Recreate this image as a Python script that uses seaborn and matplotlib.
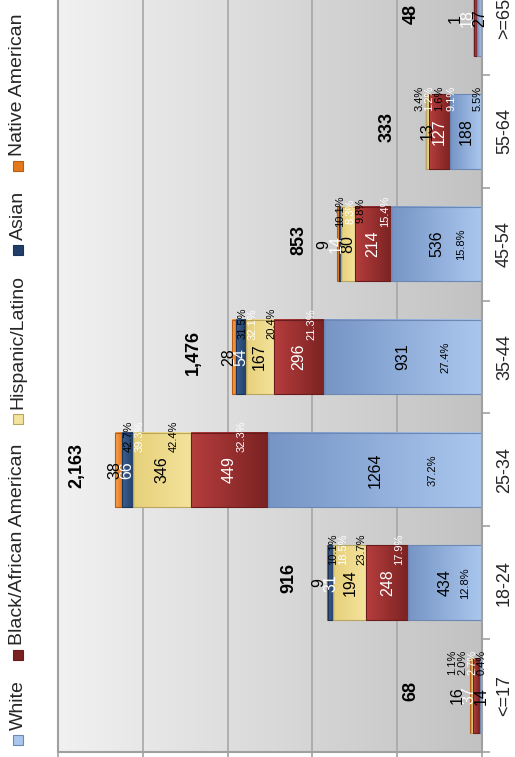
import numpy as np
import matplotlib
matplotlib.use("Agg")
import matplotlib.pyplot as plt
from matplotlib.colors import LinearSegmentedColormap
from matplotlib.patches import Rectangle
import seaborn as sns

# --- data ---
ages = ["<=17", "18-24", "25-34", "35-44", "45-54", "55-64", ">=65"]
white = [14, 434, 1264, 931, 536, 188, 27]
black = [37, 248, 449, 296, 214, 127, 18]
hispanic = [16, 194, 346, 167, 80, 13, 1]
asian = [0, 31, 66, 54, 14, 2, 1]
native = [1, 9, 38, 28, 9, 3, 1]
series_names = ["White", "Black/African American", "Hispanic/Latino",
                "Asian", "Native American"]

# far-end colour, base colour, edge colour, label colour
styles = [
    ("#7795c5", "#a9c7ee", "#6d88b3", "black"),
    ("#b63d3d", "#7a2222", "#6a1c1c", "white"),
    ("#e6d07a", "#f4e39c", "#b8a560", "black"),
    ("#3b5f90", "#213f69", "#1b3356", "white"),
    ("#f8a452", "#e4781c", "#b85e14", "black"),
]

W, H, DPI = 515, 757, 100
XMAX = 2500
PX = 424 / XMAX          # pixels per unit along the value axis
BAR_W = 0.66

sns.set_theme(style="white")
plt.rcParams["font.family"] = ["Liberation Sans", "DejaVu Sans"]

vals = np.array([white, black, hispanic, asian, native])
cum = vals.cumsum(axis=0)
starts = cum - vals
totals = vals.sum(axis=0)
race_totals = vals.sum(axis=1)
order = ages[::-1]

fig = plt.figure(figsize=(W / DPI, H / DPI), dpi=DPI)
# the original chart is cut at the top, so the axes run past the figure edge
ax = fig.add_axes([58 / W, 5 / H, 424 / W, 790 / H])

# background gradient
bg = LinearSegmentedColormap.from_list("bg", ["#f1f1f1", "#c2c2c2"])
ax.imshow(np.linspace(0, 1, 256).reshape(1, -1), cmap=bg, aspect="auto",
          extent=(0, 1, 0, 1), transform=ax.transAxes, zorder=0)

# stacked bars: draw cumulative layers from the top down
seg_patches = {}
for k in range(4, -1, -1):
    n0 = len(ax.patches)
    sns.barplot(x=cum[k], y=ages, order=order, orient="h", color=styles[k][1],
                saturation=1, width=BAR_W, ax=ax, linewidth=0)
    seg_patches[k] = ax.patches[n0:]

# gradient fill + edge on each segment
for k, patches in seg_patches.items():
    far, near, edge, _ = styles[k]
    cmap = LinearSegmentedColormap.from_list(f"s{k}", [near, far])
    for age, p in zip(order, patches):
        i = ages.index(age)
        v = vals[k, i]
        if v == 0:
            p.set_visible(False)
            continue
        y0, h = p.get_y(), p.get_height()
        x0, x1 = starts[k, i], cum[k, i]
        ax.imshow(np.linspace(0, 1, 64).reshape(1, -1), cmap=cmap, aspect="auto",
                  extent=(x0, x1, y0 + h, y0), zorder=1.2)
        ax.add_patch(Rectangle((x0, y0), v, h, fill=False, edgecolor=edge,
                               linewidth=0.8, zorder=1.3))

# labels
for i, age in enumerate(ages):
    ypos = order.index(age)

    # segment values, spread a little where they collide
    prev = -np.inf
    for k in range(5):
        v = vals[k, i]
        if v == 0 or (k >= 3 and v < 4):
            continue
        pos = max(starts[k, i] + v / 2, prev + 12 / PX)
        prev = pos
        ax.text(pos, ypos, str(v), rotation=90, ha="center", va="center",
                fontsize=11.5, color=styles[k][3], zorder=3)

    # share of each race across ages (the last row sits above the crop)
    prev = -np.inf
    for k in range(5):
        v = vals[k, i]
        if v == 0 or age == ">=65":
            continue
        pct = f"{v / race_totals[k] * 100:.1f}%"
        if k == 0 and v * PX > 60:
            ax.text(starts[k, i] + 0.23 * v, ypos, pct, rotation=90, ha="center",
                    va="center", fontsize=8, color=styles[k][3], zorder=3)
            continue
        pos = max(starts[k, i] + v / 2 - 12 / PX, prev + 10 / PX, 0)
        prev = pos
        ax.text(pos, ypos - 0.295, pct, rotation=90, ha="center", va="center",
                fontsize=8, color=styles[k][3], zorder=3)

    # bar totals
    ax.text(max(totals[i] + 225, 420), ypos - 0.04, f"{totals[i]:,}", rotation=90,
            ha="center", va="center", fontsize=13, fontweight="bold",
            color="black", zorder=3)

# axes styling
ax.set_xlim(XMAX, 0)
ax.set_ylim(len(ages) - 0.5, -0.5)
ax.set_xlabel("")
ax.set_ylabel("")
ax.set_xticks(range(0, XMAX + 1, 500))
ax.set_xticklabels([])
ax.xaxis.grid(True, color="#a3a3a3", linewidth=1.1)
ax.yaxis.grid(False)
ax.set_axisbelow(True)
ax.tick_params(axis="x", which="major", bottom=True, length=4, width=1.2,
               color="#a0a0a0", direction="out")

ax.yaxis.tick_right()
ax.set_yticks(range(len(ages)))
ax.set_yticklabels(order, rotation=90, va="center", fontsize=13)
ax.set_yticks(np.arange(-0.5, len(ages), 1), minor=True)
ax.tick_params(axis="y", which="major", length=0, pad=10)
ax.tick_params(axis="y", which="minor", right=True, left=False, length=6,
               width=1.2, color="#a0a0a0")
for side in ["bottom", "right", "left"]:
    ax.spines[side].set_visible(True)
    ax.spines[side].set_color("#a0a0a0")
    ax.spines[side].set_linewidth(1.5)
ax.spines["top"].set_visible(False)

# legend down the left edge, reading bottom to top
fig.canvas.draw()
renderer = fig.canvas.get_renderer()
cursor = 17
for name, (far, near, edge, _) in zip(series_names, styles):
    fig.patches.append(Rectangle(((18 - 5) / W, (cursor - 5) / H), 10 / W, 10 / H,
                                 transform=fig.transFigure, facecolor=near,
                                 edgecolor=edge, linewidth=0.8))
    t = fig.text(18 / W, (cursor + 10) / H, name, rotation=90, ha="center",
                 va="bottom", fontsize=14)
    cursor += 10 + t.get_window_extent(renderer).height + 25

fig.savefig("out.png", dpi=DPI)
